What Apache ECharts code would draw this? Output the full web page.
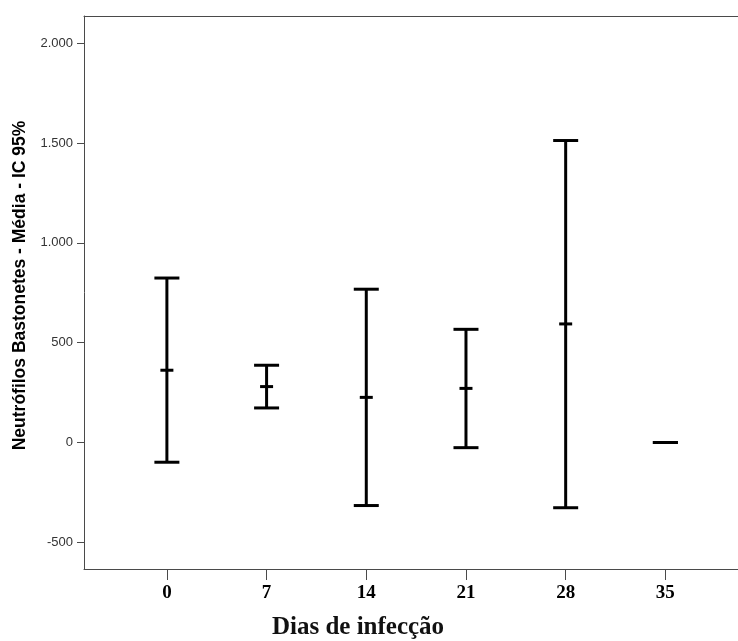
<!DOCTYPE html>
<html>
<head>
<meta charset="utf-8">
<script src="https://cdn.jsdelivr.net/npm/echarts@6/dist/echarts.min.js"></script>
<style>
  html, body { margin: 0; padding: 0; background: #fff; }
  #chart { width: 738px; height: 641px; }
</style>
</head>
<body>
<div id="chart"></div>
<script>
// Days of infection and the 95% CI of band neutrophils for each day
const days = [0, 7, 14, 21, 28, 35];
const ciLow = [-99, 173, -316, -26, -327, 0];
const means = [362, 280, 226, 271, 594, 0];
const ciHigh = [824, 387, 768, 567, 1513, 0];
const yTicks = [-500, 0, 500, 1000, 1500, 2000];

const rows = days.map((d, i) => [d, ciLow[i], means[i], ciHigh[i]]);

function fmtThousands(v) {
  return String(v).replace(/\B(?=(\d{3})+(?!\d))/g, '.');
}

// Whisker from lower to upper limit, end caps, and a short tick at the mean
function renderErrorBar(params, api) {
  const x = api.value(0);
  const lo = api.coord([x, api.value(1)]);
  const mid = api.coord([x, api.value(2)]);
  const hi = api.coord([x, api.value(3)]);
  const cap = 12.5;
  const tick = 6.5;
  const style = { stroke: '#000', lineWidth: 3, fill: null };
  return {
    type: 'group',
    children: [
      { type: 'line', shape: { x1: lo[0], y1: lo[1], x2: hi[0], y2: hi[1] }, style },
      { type: 'line', shape: { x1: hi[0] - cap, y1: hi[1], x2: hi[0] + cap, y2: hi[1] }, style },
      { type: 'line', shape: { x1: lo[0] - cap, y1: lo[1], x2: lo[0] + cap, y2: lo[1] }, style },
      { type: 'line', shape: { x1: mid[0] - tick, y1: mid[1], x2: mid[0] + tick, y2: mid[1] }, style }
    ]
  };
}

const axisColor = '#4a4a4a';
const chart = echarts.init(document.getElementById('chart'), null, { renderer: 'canvas' });
chart.setOption({
  animation: false,
  grid: { left: 84, right: 0, top: 16, bottom: 72, outerBoundsMode: 'none', containLabel: false },
  xAxis: [
    {
      type: 'value',
      min: -5.82,
      max: 40.1,
      position: 'bottom',
      splitLine: { show: false },
      axisLine: { show: true, onZero: false, lineStyle: { color: axisColor, width: 1 } },
      axisTick: { show: true, length: 11, customValues: days, lineStyle: { color: axisColor } },
      axisLabel: {
        customValues: days,
        margin: 15,
        fontFamily: 'Liberation Serif',
        fontWeight: 'bold',
        fontSize: 19,
        color: '#000'
      },
      name: 'Dias de infecção',
      nameLocation: 'middle',
      nameGap: 46,
      nameTextStyle: {
        fontFamily: 'Liberation Serif',
        fontWeight: 'bold',
        fontSize: 25,
        color: '#111',
        padding: [0, 106, 0, 0]
      }
    },
    {
      type: 'value',
      min: -5.82,
      max: 40.1,
      position: 'top',
      splitLine: { show: false },
      axisLine: { show: true, onZero: false, lineStyle: { color: axisColor, width: 1 } },
      axisTick: { show: false },
      axisLabel: { show: false }
    }
  ],
  yAxis: {
    type: 'value',
    min: -634,
    max: 2137,
    splitLine: { show: false },
    axisLine: { show: true, onZero: false, lineStyle: { color: axisColor, width: 1 } },
    axisTick: { show: true, length: 7, customValues: yTicks, lineStyle: { color: axisColor } },
    axisLabel: {
      customValues: yTicks,
      margin: 11,
      fontFamily: 'Liberation Sans',
      fontSize: 13,
      color: '#333',
      formatter: v => fmtThousands(v)
    },
    name: 'Neutrófilos Bastonetes - Média - IC 95%',
    nameLocation: 'middle',
    nameGap: 48,
    nameRotate: 90,
    nameTextStyle: {
      fontFamily: 'Liberation Sans',
      fontWeight: 'bold',
      fontSize: 17.5,
      color: '#000',
      padding: [0, 0, 0, 14]
    }
  },
  series: [{
    type: 'custom',
    xAxisIndex: 0,
    renderItem: renderErrorBar,
    encode: { x: 0, y: [1, 2, 3] },
    data: rows
  }]
});
</script>
</body>
</html>
